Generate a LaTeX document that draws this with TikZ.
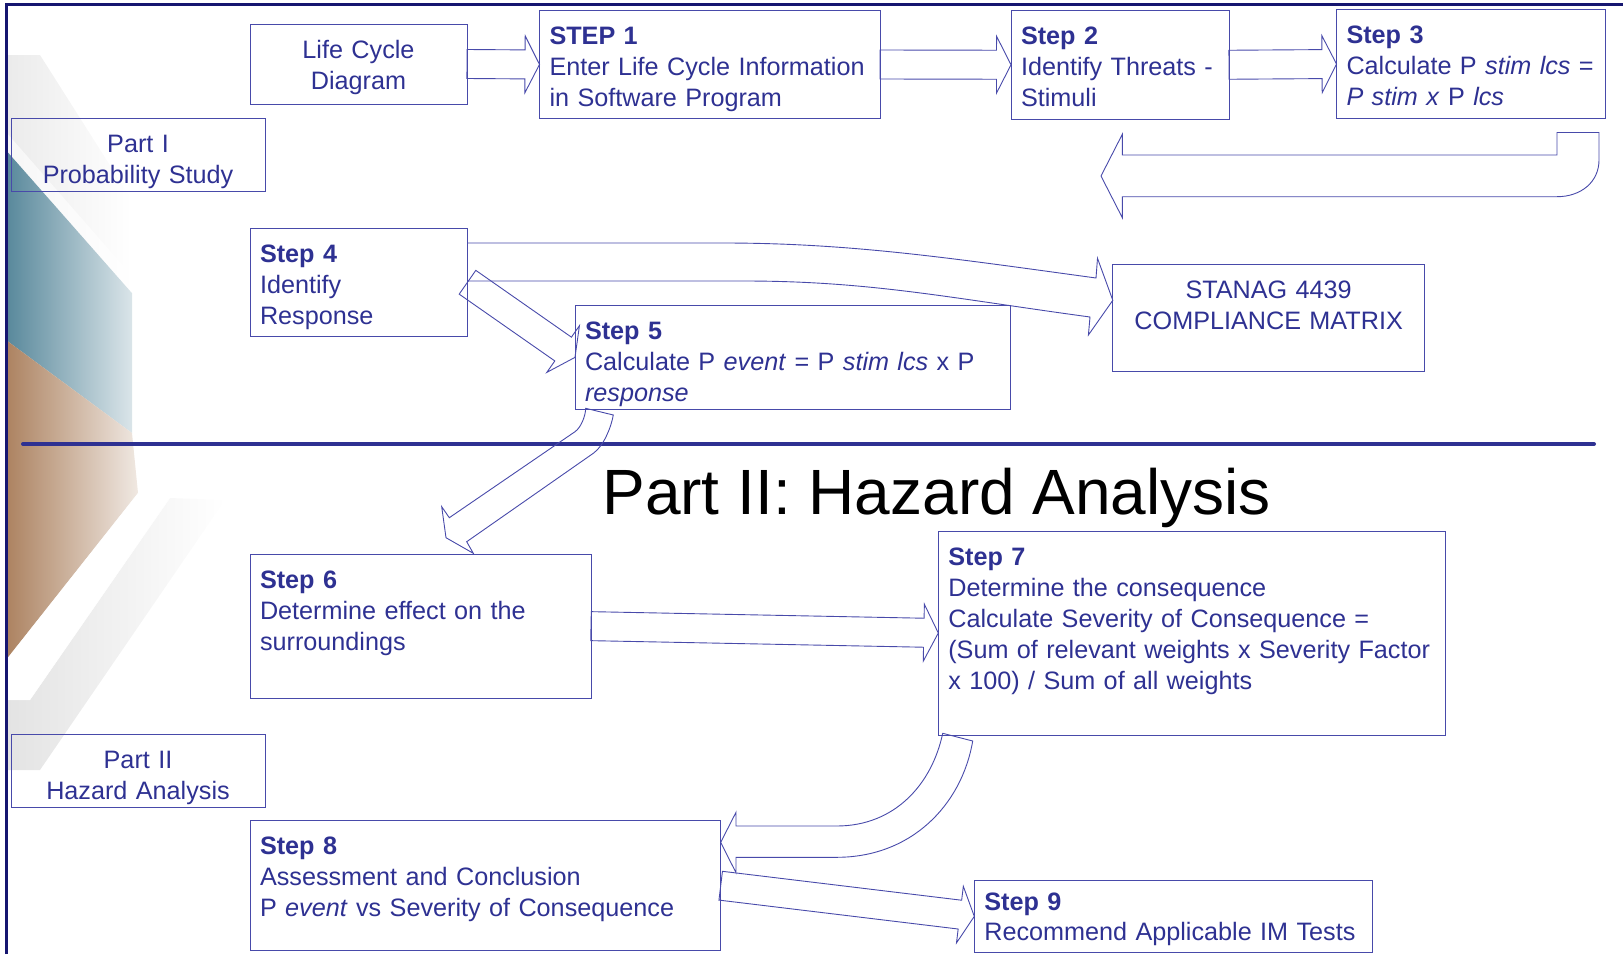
\documentclass[tikz,border=0pt]{standalone}
\usepackage{fontspec}
\setmainfont{Liberation Sans}
\usepackage{tikz}
\usetikzlibrary{calc}
\definecolor{ink}{RGB}{46,49,146}
\definecolor{boxline}{RGB}{72,74,170}
\definecolor{framecol}{RGB}{22,22,112}
\definecolor{decoblue}{RGB}{88,136,155}
\definecolor{decobrown}{RGB}{172,130,96}
\newcommand{\blockarrow}[2]{%
  \coordinate (ah) at ($(#2)!14.5pt!(#1)$);
  \draw[blockline] ($(#1)!14.5pt!90:(#2)$) -- ($(ah)!14.5pt!90:(#2)$) -- ($(ah)!28.5pt!90:(#2)$)
    -- (#2) -- ($(ah)!28.5pt!-90:(#2)$) -- ($(ah)!14.5pt!-90:(#2)$) -- ($(#1)!14.5pt!-90:(#2)$) -- cycle;}

\begin{document}
\begin{tikzpicture}[x=1pt,y=-1pt,
  box/.style={draw=boxline, line width=0.9pt, text=ink, anchor=north west, outer sep=0pt,
    inner xsep=10pt, inner ysep=0pt, text height=34pt, align=left,
    font=\fontsize{25.2}{31}\selectfont,
    execute at begin node={\hyphenpenalty=10000\exhyphenpenalty=10000}},
  blockline/.style={draw=boxline, line width=0.9pt, line join=miter},
  rule/.style={draw=ink, line width=4pt, line cap=round}]
       \useasboundingbox (0,0) rectangle (1623,954);
       \shade[left color=gray!16, right color=white] (6,55) -- (40,55) -- (132,200) -- (132,293) -- (6,150) -- cycle;
       \shade[left color=decoblue, right color=decoblue!22!white] (6,150) -- (132,293) -- (132,433) -- (6,340) -- cycle;
       \fill[white, opacity=0.6] (6,132) -- (132,276) -- (132,293) -- (6,150) -- cycle;
       \shade[left color=decobrown, right color=decobrown!18!white] (6,340) -- (132,433) -- (138,493) -- (6,660) -- cycle;
       \shade[left color=gray!22, right color=white] (6,700) -- (30,700) -- (170,498) -- (225,500) -- (40,770) -- (6,770) -- cycle;
       \fill[white, opacity=0.85] (138,493) -- (170,498) -- (30,700) -- (6,700) -- (6,660) -- cycle;
       \draw[framecol, line width=3pt] (6,954) -- (6,4) -- (1623,4);
       \draw[rule] (23,444) -- (1594,444);
       \node[box, align=center, text width=197pt, text depth=46pt] (lcd) at (250,24) {Life Cycle\\Diagram};
       \node[box, text width=320.5pt, text depth=74pt] (s1) at (539.5,10.5) {\textbf{STEP 1}\\\mbox{Enter Life Cycle Information}\\in Software Program};
       \node[box, text width=198pt, text depth=74.5pt] (s2) at (1011,10.5) {\textbf{Step 2}\\Identify Threats -\\Stimuli};
       \node[box, text width=248.5pt, text depth=75pt] (s3) at (1336.5,9.5) {\textbf{Step 3}\\\mbox{Calculate P \textit{stim lcs} =}\\\textit{P stim x} P \textit{lcs}};
       \node[box, align=center, text width=234pt, text depth=39pt] (p1) at (11,118) {Part I\\Probability Study};
       \node[box, text width=197.5pt, text depth=73.5pt] (s4) at (250,228.5) {\textbf{Step 4}\\Identify\\Response};
       \node[box, text width=415.5pt, text depth=69.3pt] (s5) at (575,305.7) {\textbf{Step 5}\\Calculate P \textit{event} = P \textit{stim lcs} x P\\\textit{response}};
       \node[box, align=center, text width=291.7pt, text depth=73.4pt] (stanag) at (1112.8,264.3) {STANAG 4439\\COMPLIANCE MATRIX};
       \node[box, text width=321pt, text depth=109.7pt] (s6) at (250,554.3) {\textbf{Step 6}\\Determine effect on the\\surroundings};
       \node[box, text width=487pt, text depth=170pt] (s7) at (938.3,531) {\textbf{Step 7}\\Determine the consequence\\Calculate Severity of Consequence =\\\mbox{(Sum of relevant weights x Severity Factor}\\x 100) / Sum of all weights};
       \node[box, align=center, text width=234pt, text depth=39pt] (p2) at (11,734) {Part II\\Hazard Analysis};
       \node[box, text width=450.7pt, text depth=96pt] (s8) at (250,820.7) {\textbf{Step 8}\\Assessment and Conclusion\\P \textit{event} vs Severity of Consequence};
       \node[box, text width=378pt, text height=30pt, text depth=41.3pt, font=\fontsize{25.2}{30}\selectfont] (s9) at (974.3,880.7) {\textbf{Step 9}\\Recommend Applicable IM Tests};
       \node[font=\fontsize{64}{70}\selectfont, anchor=base] (title) at (936.7,514) {Part II: Hazard Analysis};
       \coordinate (back) at (1101,176);
       \blockarrow{lcd.east}{s1.west}
       \blockarrow{s1.east}{s2.west}
       \blockarrow{s2.east}{s3.west}
       \blockarrow{s4.east}{s5.west}
       \blockarrow{s6.east}{s7.west}
       \blockarrow{s8.east}{s9.west}
       \draw[blockline] ($(s3.south east)+(-48,14)$) -- ($(s3.south east)+(-6,14)$) -- (1599,160)
         .. controls (1599,182) and (1581,196.7) .. (1557,196.7) -- (1122.3,196.7) -- (1122.3,217.7)
         -- (back) -- (1122.3,134.3) -- (1122.3,155) -- (1557,155) -- cycle;
       \draw[blockline] ($(s4.north east)+(0,14.5)$) -- (723,243) .. controls (850,243) and (950,258) .. (1096,278)
         -- (1097.5,258.3) -- ($(stanag.north west)+(0,36)$) -- (1088.4,335) -- (1090,317)
         .. controls (950,298) and (870,281) .. (744,281) -- ($(s4.north east)+(0,52.5)$) -- cycle;
       \draw[blockline] ($(s5.south west)+(10.7,-0.7)$) .. controls (585.5,416) and (581,427.5) .. (575,431.7)
         -- (449.3,517.7) -- (441.7,506.7) -- (446,537.7) -- ($(s6.north west)+(223.3,-1)$) -- (466.7,541.7)
         -- (593.3,453.3) .. controls (603.4,446.2) and (611,428) .. (613.3,415) -- cycle;
       \draw[blockline] ($(s7.south west)+(4.4,-1.7)$) .. controls (932,784) and (895,826) .. (836.7,826)
         -- (736,826) -- (736,812.3) -- ($(s8.north east)+(0,21.6)$) -- (736,872.7) -- (736,857.3)
         -- (836.7,857.3) .. controls (911.5,857.3) and (961.8,804.8) .. (972.7,741) -- cycle;
      \end{tikzpicture}
\end{document}
